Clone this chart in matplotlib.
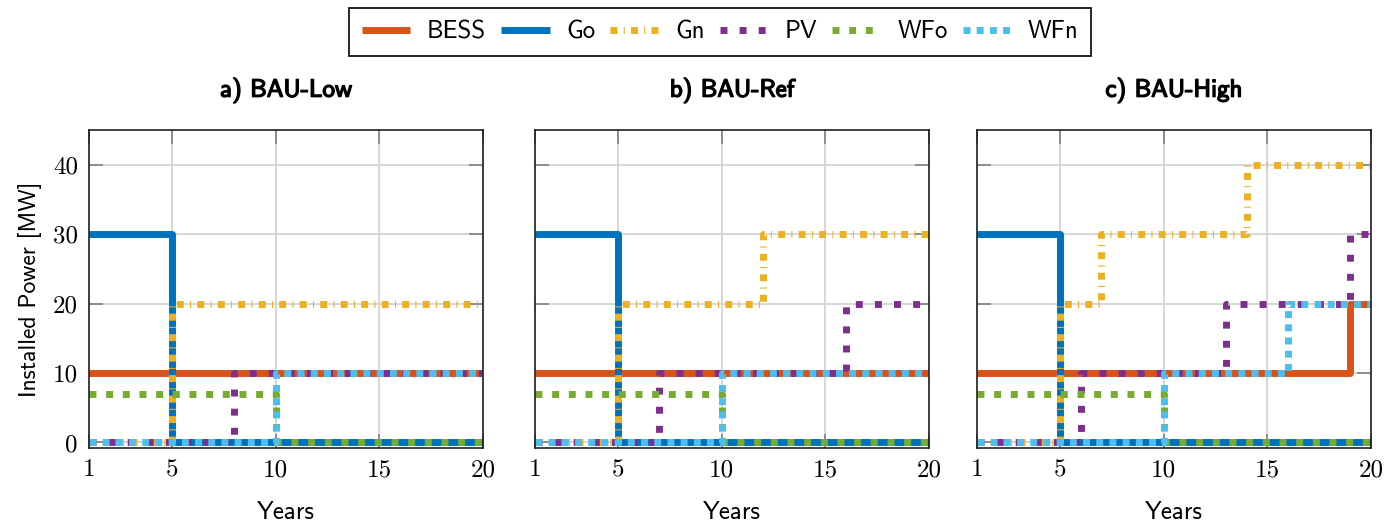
import matplotlib
matplotlib.use("Agg")
import matplotlib.pyplot as plt
import matplotlib.patheffects as pe
from matplotlib.ticker import FixedLocator

years = list(range(1, 21))
titles = ["a) BAU-Low", "b) BAU-Ref", "c) BAU-High"]
series_names = ["BESS", "Go", "Gn", "PV", "WFo", "WFn"]

# Installed power per year (MW), step-post values for years 1..20
bau_low = {
    "BESS": [10, 10, 10, 10, 10, 10, 10, 10, 10, 10, 10, 10, 10, 10, 10, 10, 10, 10, 10, 10],
    "Go":   [30, 30, 30, 30, 0, 0, 0, 0, 0, 0, 0, 0, 0, 0, 0, 0, 0, 0, 0, 0],
    "Gn":   [0, 0, 0, 0, 20, 20, 20, 20, 20, 20, 20, 20, 20, 20, 20, 20, 20, 20, 20, 20],
    "PV":   [0, 0, 0, 0, 0, 0, 0, 10, 10, 10, 10, 10, 10, 10, 10, 10, 10, 10, 10, 10],
    "WFo":  [7, 7, 7, 7, 7, 7, 7, 7, 7, 0, 0, 0, 0, 0, 0, 0, 0, 0, 0, 0],
    "WFn":  [0, 0, 0, 0, 0, 0, 0, 0, 0, 10, 10, 10, 10, 10, 10, 10, 10, 10, 10, 10],
}
bau_ref = {
    "BESS": [10, 10, 10, 10, 10, 10, 10, 10, 10, 10, 10, 10, 10, 10, 10, 10, 10, 10, 10, 10],
    "Go":   [30, 30, 30, 30, 0, 0, 0, 0, 0, 0, 0, 0, 0, 0, 0, 0, 0, 0, 0, 0],
    "Gn":   [0, 0, 0, 0, 20, 20, 20, 20, 20, 20, 20, 30, 30, 30, 30, 30, 30, 30, 30, 30],
    "PV":   [0, 0, 0, 0, 0, 0, 10, 10, 10, 10, 10, 10, 10, 10, 10, 20, 20, 20, 20, 20],
    "WFo":  [7, 7, 7, 7, 7, 7, 7, 7, 7, 0, 0, 0, 0, 0, 0, 0, 0, 0, 0, 0],
    "WFn":  [0, 0, 0, 0, 0, 0, 0, 0, 0, 10, 10, 10, 10, 10, 10, 10, 10, 10, 10, 10],
}
bau_high = {
    "BESS": [10, 10, 10, 10, 10, 10, 10, 10, 10, 10, 10, 10, 10, 10, 10, 10, 10, 10, 20, 20],
    "Go":   [30, 30, 30, 30, 0, 0, 0, 0, 0, 0, 0, 0, 0, 0, 0, 0, 0, 0, 0, 0],
    "Gn":   [0, 0, 0, 0, 20, 20, 30, 30, 30, 30, 30, 30, 30, 40, 40, 40, 40, 40, 40, 40],
    "PV":   [0, 0, 0, 0, 0, 10, 10, 10, 10, 10, 10, 10, 20, 20, 20, 20, 20, 20, 30, 30],
    "WFo":  [7, 7, 7, 7, 7, 7, 7, 7, 7, 0, 0, 0, 0, 0, 0, 0, 0, 0, 0, 0],
    "WFn":  [0, 0, 0, 0, 0, 0, 0, 0, 0, 10, 10, 10, 10, 10, 10, 20, 20, 20, 20, 20],
}
scenarios = [bau_low, bau_ref, bau_high]

x_ticks = [1, 5, 10, 15, 20]
y_ticks = [0, 10, 20, 30, 40]

colors = {"BESS": "#D95319", "Go": "#0072BD", "Gn": "#EDB120",
          "PV": "#7E2F8E", "WFo": "#77AC30", "WFn": "#4DBEEE"}
styles = {"BESS": "-", "Go": "-",
          "Gn": (0, (1.0, 0.9, 0.15, 0.9)),
          "PV": (0, (1.0, 1.75)),
          "WFo": (0, (1.0, 1.4)),
          "WFn": (0, (1.0, 0.9))}

SANS = "cmss10"
SERIF = "cmr10"
plt.rcParams["axes.formatter.use_mathtext"] = True

fig = plt.figure(figsize=(13.97, 5.21), dpi=100)
lefts = [89, 535, 977]
axw = 394
bottom_px, top_px = 448, 130
H = 521.0
W = 1397.0

bold = [pe.withStroke(linewidth=1.0, foreground="black")]
handles = []
for i, (data, title) in enumerate(zip(scenarios, titles)):
    ax = fig.add_axes([lefts[i] / W, 1 - bottom_px / H, axw / W, (bottom_px - top_px) / H])
    for name in series_names:
        ln, = ax.plot(years, data[name], drawstyle="steps-post", color=colors[name],
                      linestyle=styles[name], linewidth=5, solid_capstyle="butt",
                      dash_capstyle="butt", label=name)
        if i == 0:
            handles.append(ln)
    ax.set_xlim(1, 20)
    ax.set_ylim(-0.8, 45)
    ax.xaxis.set_major_locator(FixedLocator(x_ticks))
    ax.yaxis.set_major_locator(FixedLocator(y_ticks))
    ax.grid(True, color="#d4d4d4", linewidth=1.3)
    ax.set_axisbelow(True)
    ax.tick_params(direction="in", length=10, width=1.2, color="#808080",
                   top=True, right=True, labelsize=18, pad=8)
    ax.set_xticklabels([str(v) for v in x_ticks], fontfamily=SERIF, fontsize=18)
    if i == 0:
        ax.set_yticklabels([str(v) for v in y_ticks], fontfamily=SERIF, fontsize=18)
        ax.set_ylabel("Installed Power [MW]", fontfamily=SANS, fontsize=17, labelpad=8)
    else:
        ax.set_yticklabels([])
    ax.set_xlabel("Years", fontfamily=SANS, fontsize=18, labelpad=14)
    t = ax.set_title(title, fontfamily=SANS, fontsize=18, pad=24)
    t.set_path_effects(bold)
    for sp in ax.spines.values():
        sp.set_linewidth(1.2)
        sp.set_color("#202020")

leg = fig.legend(handles=handles, labels=series_names, loc="upper center",
                 bbox_to_anchor=(720 / W, 1 - 8 / H), ncol=6, frameon=True,
                 fancybox=False, edgecolor="black", framealpha=1,
                 prop={"family": SANS, "size": 18}, handlelength=1.95,
                 handletextpad=0.65, columnspacing=0.6, borderpad=0.5,
                 borderaxespad=0)
leg.get_frame().set_linewidth(1.2)

fig.savefig("out.png", dpi=100)
